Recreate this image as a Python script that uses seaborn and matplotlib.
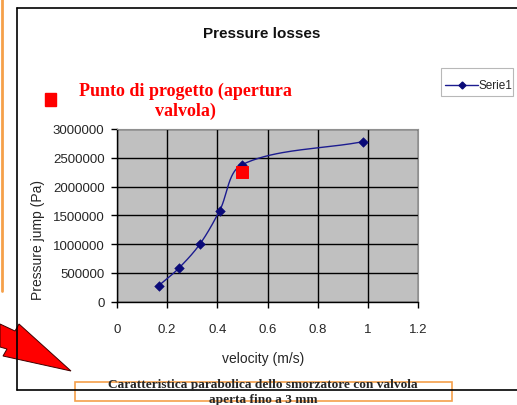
import numpy as np
import pandas as pd
import matplotlib
matplotlib.use('Agg')
import matplotlib.pyplot as plt
import seaborn as sns
from matplotlib.patches import Polygon, Rectangle
from matplotlib.lines import Line2D

sns.set_style('white')
plt.rcParams['font.family'] = ['Liberation Sans', 'DejaVu Sans']

# data
velocity = [0.166, 0.246, 0.332, 0.409, 0.498, 0.981]
pressure = [278000, 580000, 1010000, 1580000, 2380000, 2780000]
design_v = [0.5]
design_p = [2250000]
x_ticks = [0, 0.2, 0.4, 0.6, 0.8, 1, 1.2]
x_labels = ['0', '0.2', '0.4', '0.6', '0.8', '1', '1.2']
y_ticks = [0, 500000, 1000000, 1500000, 2000000, 2500000, 3000000]

df = pd.DataFrame({'velocity': velocity, 'pressure': pressure})

W, H = 517, 406
fig = plt.figure(figsize=(W / 100, H / 100), dpi=100)
fig.patch.set_facecolor('white')


def fx(x):
    return x / W


def fy(y):
    return 1 - y / H


# outer chart frame and surrounding slide bits
fig.add_artist(Line2D([fx(16.5), fx(16.5)], [fy(9), fy(391)], color='black', lw=1.2))
fig.add_artist(Line2D([fx(16.5), fx(517)], [fy(9), fy(9)], color='black', lw=1.2))
fig.add_artist(Line2D([fx(16.5), fx(517)], [fy(391), fy(391)], color='black', lw=1.2))
fig.add_artist(Line2D([fx(2), fx(2)], [fy(0), fy(292)], color='#f5a04a', lw=2))

ax_w, ax_h = 301.0, 172.7
ax = fig.add_axes([fx(117), fy(302.7), ax_w / W, ax_h / H])
ax.set_facecolor('#c0c0c0')

# Excel style smoothed line: bezier through the points, worked out in pixel space
P = np.column_stack([np.array(velocity) / 1.2 * ax_w, np.array(pressure) / 3e6 * ax_h])
n = len(P)
cx, cy = [], []
t = np.linspace(0, 1, 40)[:, None]
for i in range(n - 1):
    p1, p2 = P[i], P[i + 1]
    p0 = P[i - 1] if i > 0 else P[i]
    p3 = P[i + 2] if i + 2 < n else P[i + 1]
    d01 = np.hypot(*(p1 - p0))
    d12 = np.hypot(*(p2 - p1))
    d23 = np.hypot(*(p3 - p2))
    c1 = p1 + (p2 - p0) * d12 / (3 * (d01 + d12))
    c2 = p2 - (p3 - p1) * d12 / (3 * (d12 + d23))
    seg = ((1 - t) ** 3) * p1 + 3 * ((1 - t) ** 2) * t * c1 + 3 * (1 - t) * t ** 2 * c2 + t ** 3 * p2
    cx.extend(seg[:, 0])
    cy.extend(seg[:, 1])
ax.plot(np.array(cx) / ax_w * 1.2, np.array(cy) / ax_h * 3e6, color='#1c1c90', lw=1.0,
        zorder=3)
sns.scatterplot(data=df, x='velocity', y='pressure', marker='D', color='#0a0a78',
                s=24, edgecolor='#0a0a78', ax=ax, zorder=4)
sns.scatterplot(x=design_v, y=design_p, marker='s', color='#ff0000', s=75,
                edgecolor='#ff0000', ax=ax, zorder=5)

ax.set_xlim(0, 1.2)
ax.set_ylim(0, 3000000)
ax.set_xticks(x_ticks)
ax.set_xticklabels(x_labels)
ax.set_yticks(y_ticks)
ax.set_yticklabels([str(v) for v in y_ticks])
ax.grid(True, color='black', lw=1.0)
ax.set_axisbelow(True)
ax.tick_params(axis='both', which='major', direction='out', length=4, width=1,
               color='black', labelsize=9.5, bottom=True, left=True)
ax.tick_params(axis='x', pad=11)
ax.tick_params(axis='y', pad=5)
for side in ['left', 'bottom']:
    ax.spines[side].set_color('black')
    ax.spines[side].set_linewidth(1.0)
for side in ['top', 'right']:
    ax.spines[side].set_color('#909090')
    ax.spines[side].set_linewidth(0.8)
ax.set_xlabel('')
ax.set_ylabel('')

fig.text(fx(263.5), fy(359), 'velocity (m/s)', ha='center', va='center', fontsize=10)
fig.text(fx(38), fy(240), 'Pressure jump (Pa)', ha='center', va='center', fontsize=10,
         rotation=90)
fig.text(fx(262), fy(34), 'Pressure losses', ha='center', va='center', fontsize=11,
         fontweight='bold', color='#111111')

# design point note
fig.add_artist(Rectangle((fx(45), fy(107)), fx(11), 13 / H, color='#ff0000'))
fig.text(fx(185), fy(101), 'Punto di progetto (apertura\nvalvola)', ha='center',
         va='center', fontsize=13, color='#ff0000', fontweight='bold',
         family='Liberation Serif', linespacing=1.2)

# legend
fig.add_artist(Rectangle((fx(441), fy(97)), fx(72), 28 / H, facecolor='white',
                         edgecolor='#b8b8b8', lw=0.8))
fig.add_artist(Line2D([fx(445), fx(478)], [fy(86), fy(86)], color='#1c1c90', lw=1.0))
fig.add_artist(Line2D([fx(461.5)], [fy(86)], color='#0a0a78', marker='D', markersize=3.5))
fig.text(fx(478.5), fy(86), 'Serie1', ha='left', va='center', fontsize=8.5)

# caption box
fig.add_artist(Rectangle((fx(75), fy(402)), fx(377), 19 / H, facecolor='white',
                         edgecolor='#f5a04a', lw=1.2))
fig.text(fx(263), fy(385), 'Caratteristica parabolica dello smorzatore con valvola',
         ha='center', va='center', fontsize=9.6, fontweight='bold', family='Liberation Serif')
fig.text(fx(263), fy(400), 'aperta fino a 3 mm', ha='center', va='center', fontsize=9.6,
         fontweight='bold', family='Liberation Serif')

# red arrow
arrow = [(0, 325), (15, 332), (19, 325), (71, 372), (3, 357), (7, 350), (0, 348)]
fig.add_artist(Polygon([(fx(a), fy(b)) for a, b in arrow], closed=True,
                       facecolor='#ff0000', edgecolor='#400000', lw=0.7))

fig.savefig('out.png', dpi=100)
